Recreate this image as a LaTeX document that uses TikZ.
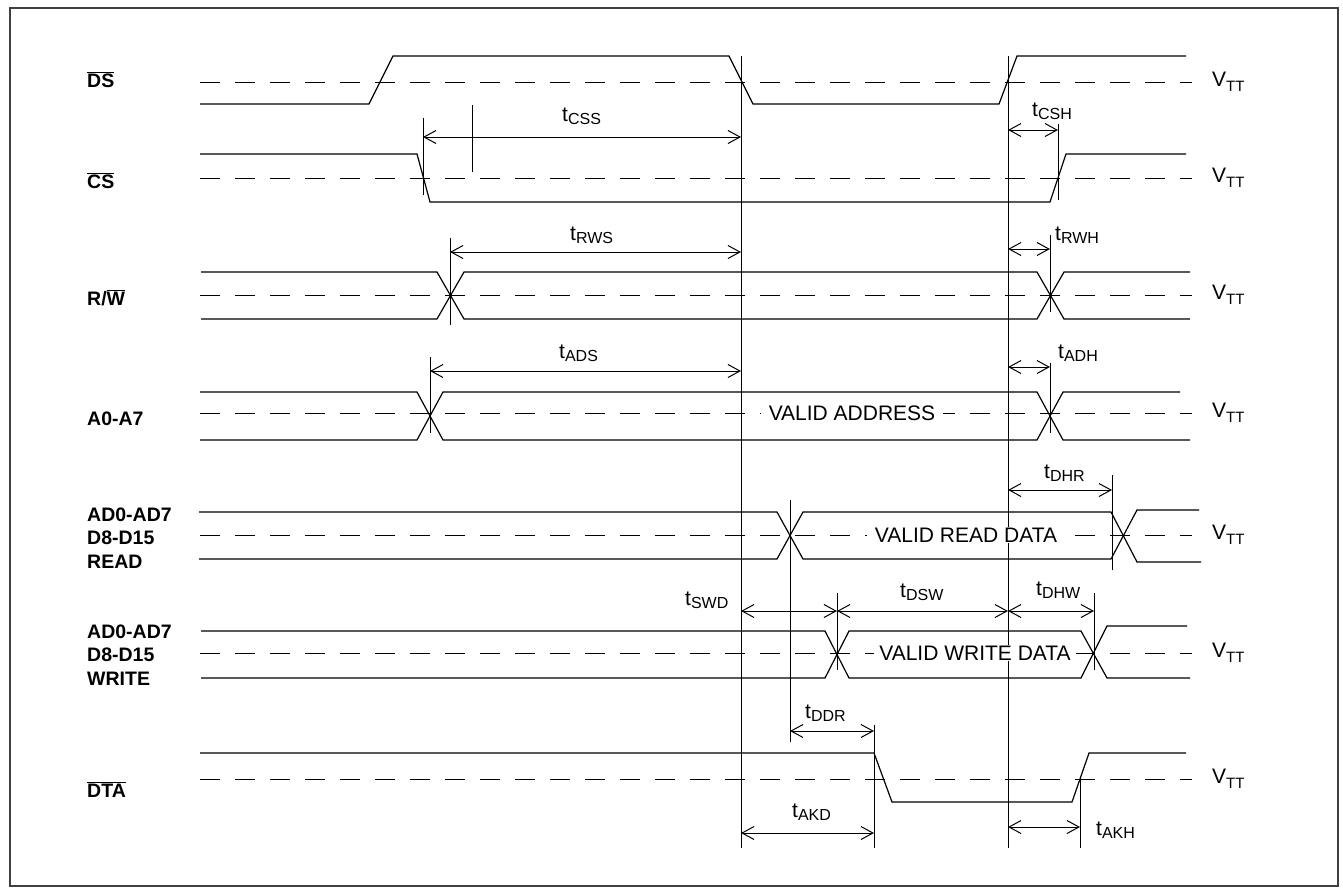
\documentclass[tikz,border=0pt]{standalone}
\usepackage{fontspec}
\setmainfont{Liberation Sans}
\usepackage{tikz}
\usetikzlibrary{arrows.meta}
\newcommand{\tm}[1]{t\raisebox{-3pt}{\fontsize{16}{16}\selectfont #1}}
\newcommand{\vtt}{V\raisebox{-5pt}{\fontsize{15}{15}\selectfont TT}}
\newcommand{\ovl}[1]{$\overline{\mbox{#1}}$}

\begin{document}
\begin{tikzpicture}[
        x=1pt, y=-1pt,
        font=\fontsize{21}{25}\selectfont,
        >={Straight Barb[length=12pt,width=13pt]},
        frame/.style={draw=black!75, line width=1.6pt},
        wave/.style={line width=1.2pt, line join=miter},
        thresh/.style={line width=1pt, dash pattern=on 20pt off 15pt},
        refline/.style={line width=1pt},
        tick/.style={line width=1pt},
        dim/.style={<->, line width=1pt},
        tlabel/.style={anchor=base west, inner sep=0pt},
        vlabel/.style={anchor=base west, inner sep=0pt},
        sig/.style={anchor=base west, inner sep=0pt, font=\fontsize{19.5}{23.5}\selectfont\bfseries},
        valid/.style={fill=white, inner xsep=8pt, inner ysep=1pt}
    ]
        \useasboundingbox (0,0) rectangle (1343,892);
        \draw[frame] (10,8) rectangle (1338,886);

        \foreach \y in {82,178,295,413,535,653,779}
            \draw[thresh] (200,\y) -- (1192,\y);

        \draw[wave] (200,104) -- (369,104) -- (393,56) -- (729,56) -- (753,104) -- (999,104) -- (1017,56) -- (1186,56);
        \draw[wave] (200,154) -- (417,154) -- (430,202) -- (1050,202) -- (1066,154) -- (1186,154);
        \draw[wave] (201,272) -- (437,272) -- (464,319) -- (1037,319) -- (1064,272) -- (1190,272);
        \draw[wave] (201,319) -- (437,319) -- (464,272) -- (1037,272) -- (1064,319) -- (1190,319);
        \draw[wave] (200,392) -- (417,392) -- (443,440) -- (1037,440) -- (1063,392) -- (1180,392);
        \draw[wave] (200,440) -- (417,440) -- (443,392) -- (1037,392) -- (1063,440) -- (1190,440);
        \draw[wave] (199,512) -- (777,512) -- (803,559) -- (1111,559) -- (1137,510) -- (1199,510);
        \draw[wave] (199,559) -- (777,559) -- (803,512) -- (1111,512) -- (1137,562) -- (1201,562);
        \draw[wave] (201,631) -- (825,631) -- (849,678) -- (1081,678) -- (1107,626) -- (1187,626);
        \draw[wave] (201,678) -- (825,678) -- (849,631) -- (1081,631) -- (1107,678) -- (1190,678);
        \draw[wave] (200,753) -- (874,753) -- (892,802) -- (1072,802) -- (1089,753) -- (1186,753);

        \coordinate (dsFall) at (741,56);
        \coordinate (dsRise) at (1008,56);
        \draw[refline] (dsFall) -- (741,848);
        \draw[refline] (dsRise) -- (1008,848);

        \draw[tick] (423,118) -- (423,195);
        \draw[tick] (472,105) -- (472,172);
        \draw[tick] (1058,124) -- (1058,200);
        \draw[tick] (450,238) -- (450,325);
        \draw[tick] (1050,235) -- (1050,312);
        \draw[tick] (430,357) -- (430,433);
        \draw[tick] (1050,363) -- (1050,433);
        \draw[tick] (790,500) -- (790,742);
        \draw[tick] (1112,475) -- (1112,570);
        \draw[tick] (837,593) -- (837,670);
        \draw[tick] (1094,593) -- (1094,670);
        \draw[tick] (874,725) -- (874,848);
        \draw[tick] (1080,777) -- (1080,848);

        \draw[dim] (423,137) -- (741,137);
        \draw[dim] (1008,130) -- (1058,130);
        \draw[dim] (450,252) -- (741,252);
        \draw[dim] (1008,249) -- (1050,249);
        \draw[dim] (430,371) -- (741,371);
        \draw[dim] (1008,367) -- (1050,367);
        \draw[dim] (1008,490) -- (1112,490);
        \draw[dim] (741,611) -- (837,611);
        \draw[dim] (837,611) -- (1008,611);
        \draw[dim] (1008,611) -- (1094,611);
        \draw[dim] (790,731) -- (874,731);
        \draw[dim] (741,833) -- (874,833);
        \draw[dim] (1008,827) -- (1080,827);

        \node[valid] (addr) at (852,413) {VALID ADDRESS};
        \node[valid] (rdata) at (966,535) {VALID READ DATA};
        \node[valid, inner xsep=5pt] (wdata) at (975,653) {VALID WRITE DATA};

        \node[tlabel] (tcss) at (562,121) {\tm{CSS}};
        \node[tlabel] (tcsh) at (1032,116) {\tm{CSH}};
        \node[tlabel] (trws) at (570,240) {\tm{RWS}};
        \node[tlabel] (trwh) at (1055,240) {\tm{RWH}};
        \node[tlabel] (tads) at (559,358) {\tm{ADS}};
        \node[tlabel] (tadh) at (1058,358) {\tm{ADH}};
        \node[tlabel] (tdhr) at (1044,478) {\tm{DHR}};
        \node[tlabel] (tswd) at (685,605) {\tm{SWD}};
        \node[tlabel] (tdsw) at (900,597) {\tm{DSW}};
        \node[tlabel] (tdhw) at (1036,595) {\tm{DHW}};
        \node[tlabel] (tddr) at (805,718) {\tm{DDR}};
        \node[tlabel] (takd) at (792,817) {\tm{AKD}};
        \node[tlabel] (takh) at (1096,835) {\tm{AKH}};

        \node[vlabel] (vds) at (1212,86) {\vtt};
        \node[vlabel] (vcs) at (1212,182) {\vtt};
        \node[vlabel] (vrw) at (1212,299) {\vtt};
        \node[vlabel] (va) at (1212,417) {\vtt};
        \node[vlabel] (vrd) at (1212,539) {\vtt};
        \node[vlabel] (vwr) at (1212,657) {\vtt};
        \node[vlabel] (vdta) at (1212,783) {\vtt};

        \node[sig] (sds) at (87,87) {\ovl{DS}};
        \node[sig] (scs) at (87,188) {\ovl{CS}};
        \node[sig] (srw) at (87,305) {R/\ovl{W}};
        \node[sig] (sa) at (87,425) {A0-A7};
        \node[sig, anchor=west, align=left] (srd) at (87,538) {AD0-AD7\\D8-D15\\READ};
        \node[sig, anchor=west, align=left] (swr) at (87,655) {AD0-AD7\\D8-D15\\WRITE};
        \node[sig] (sdta) at (87,797) {\ovl{DTA}};
    \end{tikzpicture}
\end{document}
